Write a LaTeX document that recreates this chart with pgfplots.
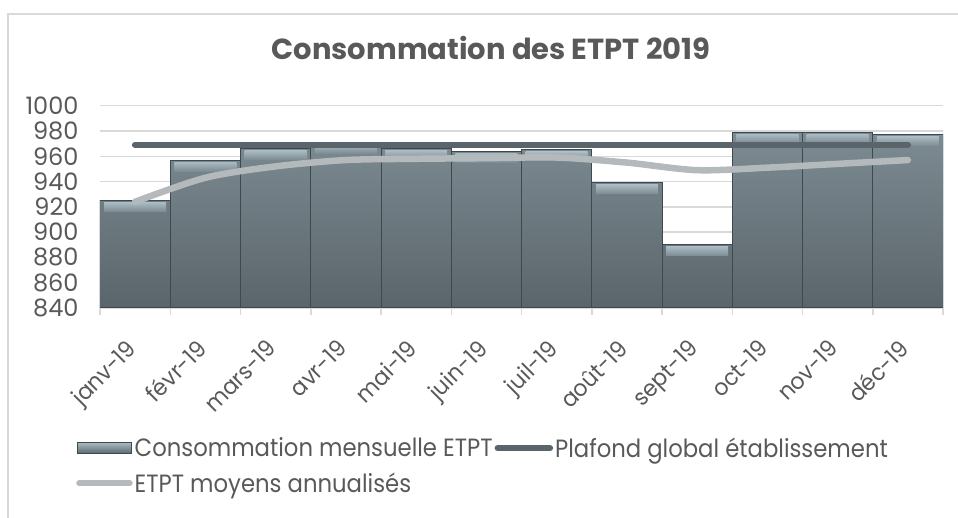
\documentclass[border=0pt]{standalone}
\usepackage{pgfplots}
\pgfplotsset{compat=1.18}
\usepackage{fontspec}
\setmainfont{Poppins}
\newfontfamily\legfont{Poppins}[FakeStretch=0.91]
\newfontfamily\tickfont{Poppins}[FakeStretch=0.95]
\definecolor{txt}{HTML}{595959}
\definecolor{frame}{HTML}{D9D9D9}
\definecolor{gridc}{HTML}{D9D9D9}
\definecolor{barTop}{HTML}{7D8B92}
\definecolor{barBot}{HTML}{5A656B}
\definecolor{barEdge}{HTML}{3F484D}
\definecolor{bevel}{HTML}{A9BAC2}
\definecolor{plaf}{HTML}{5A646B}
\definecolor{moy}{HTML}{B4B9BC}
\begin{document}
\begin{tikzpicture}[x=1pt,y=1pt]
\path[use as bounding box] (0,0) rectangle (958,518);
\draw[color=frame, line width=1.5pt] (8,0) -- (8,504) -- (958,504);
\node[font=\bfseries\fontsize{29}{32}\selectfont, text=txt] at (491,470) {Consommation des ETPT 2019};
\begin{axis}[
  at={(100pt,210pt)}, anchor=south west, scale only axis,
  width=843pt, height=202.3pt,
  clip mode=individual,
  xmin=-0.5, xmax=11.5, ymin=840, ymax=1000,
  ytick={840,860,...,1000},
  xtick={0,...,11},
  xticklabels={janv-19,févr-19,mars-19,avr-19,mai-19,juin-19,juil-19,août-19,sept-19,oct-19,nov-19,déc-19},
  minor xtick={-0.5,0.5,...,11.5},
  major tick length=0pt, minor tick length=7pt, tick align=outside,
  axis x line*=bottom, axis y line*=left,
  y axis line style={draw=none},
  x axis line style={color=gridc, line width=1.5pt, -},
  minor x tick style={color=gridc, line width=1.5pt},
  ytick style={draw=none},
  ymajorgrids, grid style={color=gridc, line width=1.5pt},
  /pgf/number format/assume math mode=true,
  /pgf/number format/1000 sep={},
  yticklabel style={font=\fontsize{24}{26}\selectfont, text=txt, xshift=-18pt},
  xticklabel style={font=\tickfont\fontsize{23}{25}\selectfont, text=txt, xshift=-10pt, yshift=-30pt, rotate=45, anchor=north east, inner sep=0pt},
  legend columns=2,
  legend cell align=left,
  legend style={at={(-0.032,-0.62)}, anchor=north west, draw=none, fill=none,
    font=\legfont\fontsize{25}{28}\selectfont, text=txt,
    /tikz/every even column/.append style={column sep=0pt},
    row sep=10pt},
]
\addplot[ybar, bar width=1, bar shift=0pt, top color=barTop, bottom color=barBot, draw=barEdge, line width=1pt,
  nodes near coords={},
  every node near coord/.style={anchor=north, inner sep=0pt, minimum width=62pt, minimum height=9pt,
    yshift=-1.5pt, top color=bevel, bottom color=barTop, draw=none},
  legend image code/.code={\shade[top color=bevel, bottom color=barBot, draw=barEdge, line width=1pt] (0pt,-5.5pt) rectangle (54pt,5.5pt);}]
  coordinates {(0,925) (1,957) (2,966) (3,971) (4,966) (5,964) (6,965) (7,939) (8,890) (9,979) (10,979) (11,977)};
\addlegendentry{Consommation mensuelle ETPT}
\addplot[color=plaf, line width=6.5pt, line cap=round,
  legend image code/.code={\draw[color=plaf, line width=6.5pt, line cap=round] (4pt,0pt) -- (56pt,0pt);}]
  coordinates {(0,969) (11,969)};
\addlegendentry{Plafond global établissement}
\addplot[color=moy, line width=6.5pt, line cap=round, smooth,
  legend image code/.code={\draw[color=moy, line width=6.5pt, line cap=round] (2pt,0pt) -- (52pt,0pt);}]
  coordinates {(0,924) (1,943) (2,952) (3,957) (4,958) (5,958.5) (6,959) (7,955) (8,949) (9,951) (10,954) (11,957)};
\addlegendentry{ETPT moyens annualisés}
\end{axis}
\end{tikzpicture}
\end{document}
